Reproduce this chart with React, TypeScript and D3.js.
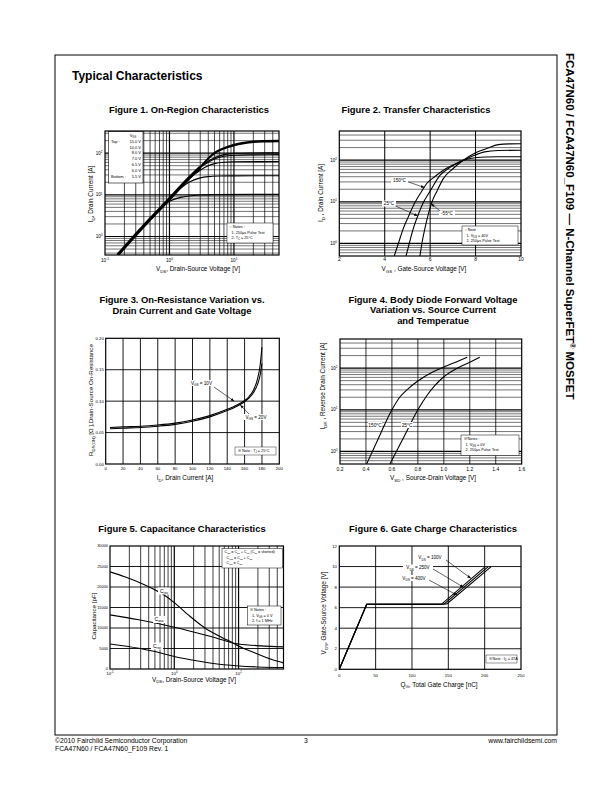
import * as d3 from "d3";
import type { ReactNode } from "react";

type Pt = [number, number];
type Box = { x0: number; x1: number; y0: number; y1: number };

const FONT = "'Liberation Sans', Arial, Helvetica, sans-serif";

// ---- Figure 1: On-Region Characteristics (log-log)
const fig1XDomain = [0.1, 50];
const fig1YDomain = [0.36, 340];
const fig1XTicks = [0.1, 1, 10];
const fig1YTicks = [1, 10, 100];
const fig1Legend = ["15.0 V", "10.0 V", "8.0 V", "7.0 V", "6.5 V", "6.0 V", "5.5 V"];
const fig1Linear: Pt[] = [[0.157, 0.36], [0.238, 0.74], [0.488, 2.5], [1, 8], [2, 25], [3, 46]];
const fig1Vgs15: Pt[] = [[3, 46], [5, 103], [7, 133], [10, 160], [15, 183], [20, 193], [30, 198], [50, 200]];
const fig1Vgs10: Pt[] = [[3, 46], [5, 99], [7, 128], [10, 152], [15, 174], [20, 183], [30, 188], [50, 190]];
const fig1Vgs8: Pt[] = [[2, 25], [3, 46], [4, 64], [5, 78], [7, 92], [10, 99], [20, 101], [50, 102]];
const fig1Vgs7: Pt[] = [[2, 25], [3, 45], [4, 60], [5, 72], [7, 84], [10, 89], [20, 91], [50, 92]];
const fig1Vgs65: Pt[] = [[1.5, 15.4], [2, 24], [3, 39], [4, 50], [5, 56], [7, 60.5], [10, 62], [50, 63]];
const fig1Vgs6: Pt[] = [[1, 8], [1.5, 14.5], [2, 20], [3, 25.5], [4, 27.3], [6, 28.2], [10, 28.5], [50, 28.8]];
const fig1Vgs55: Pt[] = [[0.7, 4.5], [1, 7], [1.5, 8.7], [2, 9.4], [3, 9.9], [5, 10.1], [50, 10.3]];
const fig1Notes = ["○ Notes :", "1. 250µs Pulse Test", "2. T_{C} = 25°C"];

// ---- Figure 2: Transfer Characteristics
const fig2XDomain = [2, 10];
const fig2YDomain = [0.5, 500];
const fig2XTicks = [2, 4, 6, 8, 10];
const fig2YTicks = [1, 10, 100];
const fig2T150: Pt[] = [[4.42, 0.5], [4.6, 1.0], [4.82, 2.3], [5.05, 4.5], [5.33, 9.6], [5.6, 17], [5.85, 27.5], [6.2, 40], [6.58, 57], [7.0, 76], [7.46, 99], [8.05, 116], [9, 120], [10, 121]];
const fig2T25: Pt[] = [[4.94, 0.5], [5.1, 1.1], [5.26, 2.3], [5.45, 4.5], [5.7, 9.6], [6.0, 18], [6.43, 43], [6.9, 68], [7.31, 90], [7.8, 120], [8.4, 158], [9.0, 170], [10, 173]];
const fig2Tm55: Pt[] = [[5.55, 0.5], [5.65, 1.1], [5.77, 2.3], [5.9, 4.6], [6.07, 9.6], [6.3, 18], [6.58, 36], [7.0, 62], [7.46, 99], [8.0, 150], [8.49, 190], [9.0, 236], [9.5, 246], [10, 248]];
const fig2Notes = ["○ Note", "1. V_{DS} = 40V", "2. 250µs Pulse Test"];

// ---- Figure 3: On-Resistance vs Drain Current
const fig3XDomain = [0, 200];
const fig3YDomain = [0, 0.2];
const fig3XTicks = [0, 20, 40, 60, 80, 100, 120, 140, 160, 180, 200];
const fig3YTicks = [0, 0.05, 0.1, 0.15, 0.2];
const fig3Vgs10: Pt[] = [[5, 0.058], [20, 0.059], [40, 0.06], [60, 0.062], [80, 0.065], [100, 0.07], [120, 0.077], [140, 0.087], [150, 0.093], [160, 0.101], [165, 0.107], [170, 0.117], [175, 0.136], [178, 0.158], [180, 0.186]];
const fig3Vgs20: Pt[] = [[5, 0.056], [20, 0.057], [40, 0.058], [60, 0.06], [80, 0.063], [100, 0.068], [120, 0.075], [140, 0.085], [150, 0.091], [160, 0.099], [165, 0.105], [170, 0.113], [175, 0.127], [178, 0.142], [180, 0.16]];

// ---- Figure 4: Body Diode Forward Voltage
const fig4XDomain = [0.2, 1.6];
const fig4YDomain = [0.5, 500];
const fig4XTicks = [0.2, 0.4, 0.6, 0.8, 1.0, 1.2, 1.4, 1.6];
const fig4YTicks = [1, 10, 100];
const fig4T150: Pt[] = [[0.405, 0.5], [0.5, 2.2], [0.6, 10], [0.66, 20], [0.72, 31], [0.8, 49], [0.9, 76], [1.0, 106], [1.1, 143], [1.18, 182]];
const fig4T25: Pt[] = [[0.585, 0.5], [0.7, 2.5], [0.8, 10], [0.87, 22], [0.93, 38], [1.0, 62], [1.1, 98], [1.2, 138], [1.277, 182]];
const fig4Notes = ["※ Notes :", "1. V_{GS} = 0V", "2. 250µs Pulse Test"];

// ---- Figure 5: Capacitance Characteristics
const fig5XDomain = [0.1, 50];
const fig5YDomain = [0, 30000];
const fig5XTicks = [0.1, 1, 10];
const fig5YTicks = [0, 5000, 10000, 15000, 20000, 25000, 30000];
const fig5Ciss: Pt[] = [[0.1, 23700], [0.17, 22500], [0.35, 20500], [0.64, 18400], [1, 16200], [1.65, 13200], [3, 10000], [5.5, 7700], [8.3, 6300], [10, 5600], [18, 3900], [33, 2300], [50, 1500]];
const fig5Coss: Pt[] = [[0.1, 13200], [0.28, 12000], [1, 10200], [3, 8300], [5.5, 7150], [8.3, 6300], [10, 6100], [22, 5650], [50, 5400]];
const fig5Crss: Pt[] = [[0.1, 6100], [0.28, 5050], [0.5, 4250], [1, 3050], [1.9, 2200], [3.8, 1400], [10, 750], [20, 500], [50, 350]];
const fig5Legend = ["C_{iss} = C_{gs} + C_{gd} (C_{ds} = shorted)", "C_{oss} = C_{ds} + C_{gd}", "C_{rss} = C_{gd}"];
const fig5Notes = ["※ Notes :", "1. V_{GS} = 0 V", "2. f = 1 MHz"];

// ---- Figure 6: Gate Charge Characteristics
const fig6XDomain = [0, 250];
const fig6YDomain = [0, 12];
const fig6XTicks = [0, 50, 100, 150, 200, 250];
const fig6YTicks = [0, 2, 4, 6, 8, 10, 12];
const fig6Vds100: Pt[] = [[0, 0], [37.7, 6.3], [140, 6.3], [201, 10]];
const fig6Vds250: Pt[] = [[0, 0], [37.7, 6.33], [144, 6.33], [205, 10]];
const fig6Vds400: Pt[] = [[0, 0], [37.7, 6.36], [148, 6.36], [209, 10]];

function rich(s: string, fs: number): ReactNode[] {
  const out: ReactNode[] = [];
  const re = /([_^])\{([^}]*)\}/g;
  let last = 0;
  let cur = 0;
  let k = 0;
  const push = (t: string, off: number, size: number) => {
    if (!t) return;
    out.push(
      <tspan key={k++} dy={off - cur} fontSize={size}>
        {t}
      </tspan>
    );
    cur = off;
  };
  let m: RegExpExecArray | null;
  while ((m = re.exec(s)) !== null) {
    push(s.slice(last, m.index), 0, fs);
    push(m[2], m[1] === "_" ? fs * 0.28 : -fs * 0.42, fs * 0.68);
    last = re.lastIndex;
  }
  push(s.slice(last), 0, fs);
  return out;
}

function logSteps(lo: number, hi: number) {
  const out: { v: number; major: boolean }[] = [];
  for (let e = Math.floor(Math.log10(lo)); e <= Math.ceil(Math.log10(hi)); e++) {
    for (let m = 1; m <= 9; m++) {
      const v = m * Math.pow(10, e);
      if (v > lo * 1.001 && v < hi * 0.999) out.push({ v, major: m === 1 });
    }
  }
  return out;
}

const pow10 = (v: number) => `10^{${Math.round(Math.log10(v))}}`;

function Frame({ P }: { P: Box }) {
  return <rect x={P.x0} y={P.y0} width={P.x1 - P.x0} height={P.y1 - P.y0} fill="none" stroke="#000" strokeWidth={1.2} />;
}

function Grid({ P, xs, ys }: { P: Box; xs: { p: number; w: number }[]; ys: { p: number; w: number }[] }) {
  return (
    <g stroke="#000">
      {xs.map((g, i) => (
        <line key={"x" + i} x1={g.p} x2={g.p} y1={P.y0} y2={P.y1} strokeWidth={g.w} />
      ))}
      {ys.map((g, i) => (
        <line key={"y" + i} x1={P.x0} x2={P.x1} y1={g.p} y2={g.p} strokeWidth={g.w} />
      ))}
    </g>
  );
}

function XTicks({ vals, pos, y, fs, fmt }: { vals: number[]; pos: (v: number) => number; y: number; fs: number; fmt: (v: number) => string }) {
  return (
    <g>
      {vals.map((v, i) => (
        <text key={i} x={pos(v)} y={y} fontSize={fs} textAnchor="middle">
          {rich(fmt(v), fs)}
        </text>
      ))}
    </g>
  );
}

function YTicks({ vals, pos, x, fs, fmt }: { vals: number[]; pos: (v: number) => number; x: number; fs: number; fmt: (v: number) => string }) {
  return (
    <g>
      {vals.map((v, i) => (
        <text key={i} x={x} y={pos(v) + fs * 0.35} fontSize={fs} textAnchor="end">
          {rich(fmt(v), fs)}
        </text>
      ))}
    </g>
  );
}

function XLabel({ s, cx, y, fs = 6.4 }: { s: string; cx: number; y: number; fs?: number }) {
  return (
    <text x={cx} y={y} fontSize={fs} textAnchor="middle">
      {rich(s, fs)}
    </text>
  );
}

function YLabel({ s, cx, cy, fs = 6.4 }: { s: string; cx: number; cy: number; fs?: number }) {
  const bx = cx + fs * 0.35;
  return (
    <text transform={`translate(${bx},${cy}) rotate(-90)`} fontSize={fs} textAnchor="middle">
      {rich(s, fs)}
    </text>
  );
}

function Title({ cx, y, lines }: { cx: number; y: number; lines: string[] }) {
  return (
    <text x={cx} y={y} textAnchor="middle" fontSize={9.4} fontWeight="bold">
      {lines.map((l, i) => (
        <tspan key={i} x={cx} dy={i === 0 ? 0 : 10.5}>
          {l}
        </tspan>
      ))}
    </text>
  );
}

function NoteBox({ x, y, w, h, lines, fs = 3.8, lh = 5.6 }: { x: number; y: number; w: number; h: number; lines: string[]; fs?: number; lh?: number }) {
  return (
    <g>
      <rect x={x} y={y} width={w} height={h} fill="#fff" stroke="#000" strokeWidth={0.5} />
      {lines.map((l, i) => (
        <text key={i} x={x + 2.5 + (i === 0 ? 0 : 2)} y={y + 1.2 + fs + i * lh} fontSize={fs}>
          {rich(l, fs)}
        </text>
      ))}
    </g>
  );
}

function Arrow({ x1, y1, x2, y2 }: { x1: number; y1: number; x2: number; y2: number }) {
  return <line x1={x1} y1={y1} x2={x2} y2={y2} stroke="#000" strokeWidth={0.6} markerEnd="url(#arrowhead)" />;
}

function Fig1() {
  const P: Box = { x0: 105, x1: 279, y0: 131, y1: 255 };
  const x = d3.scaleLog().domain(fig1XDomain).range([P.x0, P.x1]);
  const y = d3.scaleLog().domain(fig1YDomain).range([P.y1, P.y0]);
  const line = d3.line<Pt>().x((d) => x(d[0])).y((d) => y(d[1])).curve(d3.curveMonotoneX);
  const xs = logSteps(fig1XDomain[0], fig1XDomain[1]).map((g) => ({ p: x(g.v), w: g.major ? 1.2 : 0.7 }));
  const ys = logSteps(fig1YDomain[0], fig1YDomain[1]).map((g) => ({ p: y(g.v), w: g.major ? 1.2 : 0.55 }));
  const curves = [fig1Vgs15, fig1Vgs10, fig1Vgs8, fig1Vgs7, fig1Vgs65, fig1Vgs6, fig1Vgs55];
  return (
    <g>
      <Title cx={189} y={112.5} lines={["Figure 1. On-Region Characteristics"]} />
      <clipPath id="clip1">
        <rect x={P.x0} y={P.y0} width={P.x1 - P.x0} height={P.y1 - P.y0} />
      </clipPath>
      <Grid P={P} xs={xs} ys={ys} />
      <g clipPath="url(#clip1)" fill="none" stroke="#000">
        <path d={line(fig1Linear) ?? ""} strokeWidth={3.2} />
        {curves.map((c, i) => (
          <path key={i} d={line(c) ?? ""} strokeWidth={i < 2 ? 1.6 : 1.1} />
        ))}
      </g>
      <rect x={108.5} y={131.5} width={34.5} height={51.5} fill="#fff" stroke="#000" strokeWidth={0.6} />
      <text x={133} y={136.5} fontSize={4} textAnchor="middle">
        {rich("V_{GS}", 4)}
      </text>
      {fig1Legend.map((v, i) => (
        <g key={v}>
          <text x={141} y={142.8 + i * 5.8} fontSize={4} textAnchor="end">
            {v}
          </text>
          {i === 0 && (
            <text x={111} y={142.8} fontSize={4}>
              Top :
            </text>
          )}
          {i === fig1Legend.length - 1 && (
            <text x={111} y={142.8 + i * 5.8} fontSize={4}>
              Bottom :
            </text>
          )}
        </g>
      ))}
      <NoteBox x={227} y={223} w={46} h={20} lines={fig1Notes} />
      <Frame P={P} />
      <XTicks vals={fig1XTicks} pos={x} y={261.5} fs={4.6} fmt={pow10} />
      <YTicks vals={fig1YTicks} pos={y} x={102.5} fs={4.6} fmt={pow10} />
      <XLabel s="V_{DS}, Drain-Source Voltage [V]" cx={198} y={271.3} />
      <YLabel s="I_{D}, Drain Current [A]" cx={91} cy={194} />
    </g>
  );
}

function Fig2() {
  const P: Box = { x0: 339.3, x1: 521, y0: 131, y1: 256 };
  const x = d3.scaleLinear().domain(fig2XDomain).range([P.x0, P.x1]);
  const y = d3.scaleLog().domain(fig2YDomain).range([P.y1, P.y0]);
  const line = d3.line<Pt>().x((d) => x(d[0])).y((d) => y(d[1])).curve(d3.curveMonotoneX);
  const xs = fig2XTicks.slice(1, -1).map((v) => ({ p: x(v), w: 1.0 }));
  const ys = logSteps(fig2YDomain[0], fig2YDomain[1]).map((g) => ({ p: y(g.v), w: g.major ? 1.2 : 0.55 }));
  return (
    <g>
      <Title cx={416} y={112.5} lines={["Figure 2. Transfer Characteristics"]} />
      <clipPath id="clip2">
        <rect x={P.x0} y={P.y0} width={P.x1 - P.x0} height={P.y1 - P.y0} />
      </clipPath>
      <Grid P={P} xs={xs} ys={ys} />
      <g clipPath="url(#clip2)" fill="none" stroke="#000" strokeWidth={1.1}>
        <path d={line(fig2T150) ?? ""} />
        <path d={line(fig2T25) ?? ""} />
        <path d={line(fig2Tm55) ?? ""} />
      </g>
      <rect x={391} y={177.5} width={17} height={6} fill="#fff" />
      <text x={399.5} y={182.3} fontSize={4.6} textAnchor="middle">150°C</text>
      <Arrow x1={408.5} y1={182} x2={x(5.75)} y2={y(22)} />
      <rect x={382} y={200.5} width={14} height={6} fill="#fff" />
      <text x={389} y={205.3} fontSize={4.6} textAnchor="middle">25°C</text>
      <Arrow x1={395.5} y1={206} x2={x(5.45)} y2={y(4.6)} />
      <rect x={439} y={210.5} width={16} height={6} fill="#fff" />
      <text x={447} y={215.3} fontSize={4.6} textAnchor="middle">-55°C</text>
      <Arrow x1={440} y1={211} x2={x(6.05)} y2={y(9)} />
      <NoteBox x={462} y={226} w={56} h={19} lines={fig2Notes} />
      <Frame P={P} />
      <XTicks vals={fig2XTicks} pos={x} y={260.8} fs={5} fmt={(v) => String(v)} />
      <YTicks vals={fig2YTicks} pos={y} x={337} fs={4.6} fmt={pow10} />
      <XLabel s="V_{GS} , Gate-Source Voltage  [V]" cx={424} y={271.3} />
      <YLabel s="I_{D} , Drain Current [A]" cx={321} cy={193} />
    </g>
  );
}

function Fig3() {
  const P: Box = { x0: 105.7, x1: 279.3, y0: 338.3, y1: 464 };
  const x = d3.scaleLinear().domain(fig3XDomain).range([P.x0, P.x1]);
  const y = d3.scaleLinear().domain(fig3YDomain).range([P.y1, P.y0]);
  const line = d3.line<Pt>().x((d) => x(d[0])).y((d) => y(d[1])).curve(d3.curveMonotoneX);
  const xs = fig3XTicks.slice(1, -1).map((v) => ({ p: x(v), w: 0.9 }));
  const ys = fig3YTicks.slice(1, -1).map((v) => ({ p: y(v), w: 0.9 }));
  return (
    <g>
      <Title cx={182} y={303} lines={["Figure 3. On-Resistance Variation vs.", "Drain Current and Gate Voltage"]} />
      <Grid P={P} xs={xs} ys={ys} />
      <g fill="none" stroke="#000" strokeWidth={1.1}>
        <path d={line(fig3Vgs10) ?? ""} />
        <path d={line(fig3Vgs20) ?? ""} />
      </g>
      <rect x={188} y={380} width={27} height={6} fill="#fff" />
      <text x={201.5} y={384.8} fontSize={4.6} textAnchor="middle">
        {rich("V_{GS} = 10V", 4.6)}
      </text>
      <Arrow x1={214} y1={387} x2={x(148)} y2={y(0.1)} />
      <rect x={242} y={414} width={27} height={6} fill="#fff" />
      <text x={256} y={418.8} fontSize={4.6} textAnchor="middle">
        {rich("V_{GS} = 20V", 4.6)}
      </text>
      <Arrow x1={249} y1={414} x2={x(155)} y2={y(0.094)} />
      <rect x={235} y={447} width={41} height={8} fill="#fff" stroke="#000" strokeWidth={0.4} />
      <text x={238} y={452.4} fontSize={3.8}>
        {rich("※ Note : T_{J} = 25°C", 3.8)}
      </text>
      <Frame P={P} />
      <XTicks vals={fig3XTicks} pos={x} y={470.3} fs={4.3} fmt={(v) => String(v)} />
      <YTicks vals={fig3YTicks} pos={y} x={103.8} fs={4.3} fmt={d3.format(".2f")} />
      <XLabel s="I_{D}, Drain Current [A]" cx={185} y={480} />
      <YLabel s="R_{DS(ON)} [Ω ],Drain-Source On-Resistance" cx={91} cy={400} fs={6.2} />
    </g>
  );
}

function Fig4() {
  const P: Box = { x0: 340, x1: 521.7, y0: 339, y1: 464 };
  const x = d3.scaleLinear().domain(fig4XDomain).range([P.x0, P.x1]);
  const y = d3.scaleLog().domain(fig4YDomain).range([P.y1, P.y0]);
  const line = d3.line<Pt>().x((d) => x(d[0])).y((d) => y(d[1])).curve(d3.curveMonotoneX);
  const xs = fig4XTicks.slice(1, -1).map((v) => ({ p: x(v), w: 0.8 }));
  const ys = logSteps(fig4YDomain[0], fig4YDomain[1]).map((g) => ({ p: y(g.v), w: g.major ? 1.2 : 0.55 }));
  return (
    <g>
      <Title cx={433} y={302.5} lines={["Figure 4. Body Diode Forward Voltage", "Variation vs. Source Current", "and Temperatue"]} />
      <clipPath id="clip4">
        <rect x={P.x0} y={P.y0} width={P.x1 - P.x0} height={P.y1 - P.y0} />
      </clipPath>
      <Grid P={P} xs={xs} ys={ys} />
      <g clipPath="url(#clip4)" fill="none" stroke="#000" strokeWidth={1.1}>
        <path d={line(fig4T150) ?? ""} />
        <path d={line(fig4T25) ?? ""} />
      </g>
      <rect x={368} y={422} width={14} height={6} fill="#fff" />
      <text x={375} y={426.8} fontSize={4.8} textAnchor="middle">150°C</text>
      <rect x={401} y={422} width={12} height={6} fill="#fff" />
      <text x={407} y={426.8} fontSize={4.8} textAnchor="middle">25°C</text>
      <NoteBox x={461} y={435} w={58} h={20.5} lines={fig4Notes} />
      <Frame P={P} />
      <XTicks vals={fig4XTicks} pos={x} y={470.5} fs={5} fmt={d3.format(".1f")} />
      <YTicks vals={fig4YTicks} pos={y} x={337.5} fs={4.6} fmt={pow10} />
      <XLabel s="V_{SD} , Source-Drain Voltage  [V]" cx={433} y={480} />
      <YLabel s="I_{DR} , Reverse Drain Current  [A]" cx={323} cy={386} />
    </g>
  );
}

function Fig5() {
  const P: Box = { x0: 110, x1: 283.5, y0: 546, y1: 669 };
  const x = d3.scaleLog().domain(fig5XDomain).range([P.x0, P.x1]);
  const y = d3.scaleLinear().domain(fig5YDomain).range([P.y1, P.y0]);
  const line = d3.line<Pt>().x((d) => x(d[0])).y((d) => y(d[1])).curve(d3.curveMonotoneX);
  const xs = logSteps(fig5XDomain[0], fig5XDomain[1]).map((g) => ({ p: x(g.v), w: g.major ? 1.2 : 0.75 }));
  const ys = fig5YTicks.slice(1, -1).map((v) => ({ p: y(v), w: 0.9 }));
  return (
    <g>
      <Title cx={182} y={532.3} lines={["Figure 5. Capacitance Characteristics"]} />
      <clipPath id="clip5">
        <rect x={P.x0} y={P.y0} width={P.x1 - P.x0} height={P.y1 - P.y0} />
      </clipPath>
      <Grid P={P} xs={xs} ys={ys} />
      <g clipPath="url(#clip5)" fill="none" stroke="#000" strokeWidth={1.1}>
        <path d={line(fig5Ciss) ?? ""} />
        <path d={line(fig5Coss) ?? ""} />
        <path d={line(fig5Crss) ?? ""} />
      </g>
      <rect x={158} y={587.5} width={12} height={7} fill="#fff" />
      <text x={164} y={592.5} fontSize={5} textAnchor="middle">{rich("C_{iss}", 5)}</text>
      <rect x={153} y={616} width={12} height={7} fill="#fff" />
      <text x={159} y={621} fontSize={5} textAnchor="middle">{rich("C_{oss}", 5)}</text>
      <rect x={151} y={642.5} width={12} height={7} fill="#fff" />
      <text x={157} y={647.5} fontSize={5} textAnchor="middle">{rich("C_{rss}", 5)}</text>
      <NoteBox x={222} y={548.5} w={60.5} h={19.5} lines={fig5Legend} fs={3.7} lh={5.4} />
      <NoteBox x={247.5} y={606} w={33.5} h={19} lines={fig5Notes} />
      <Frame P={P} />
      <XTicks vals={fig5XTicks} pos={x} y={674.8} fs={4.4} fmt={pow10} />
      <YTicks vals={fig5YTicks} pos={y} x={108} fs={3.9} fmt={(v) => String(v)} />
      <XLabel s="V_{DS}, Drain-Source Voltage [V]" cx={194} y={681.5} />
      <YLabel s="Capacitance [pF]" cx={94} cy={616} fs={6.2} />
    </g>
  );
}

function Fig6() {
  const P: Box = { x0: 339.3, x1: 521, y0: 546, y1: 669.3 };
  const x = d3.scaleLinear().domain(fig6XDomain).range([P.x0, P.x1]);
  const y = d3.scaleLinear().domain(fig6YDomain).range([P.y1, P.y0]);
  const line = d3.line<Pt>().x((d) => x(d[0])).y((d) => y(d[1]));
  const xs = fig6XTicks.slice(1, -1).map((v) => ({ p: x(v), w: 0.9 }));
  const ys = fig6YTicks.slice(1, -1).map((v) => ({ p: y(v), w: 0.9 }));
  return (
    <g>
      <Title cx={433} y={532.3} lines={["Figure 6. Gate Charge Characteristics"]} />
      <Grid P={P} xs={xs} ys={ys} />
      <g fill="none" stroke="#000" strokeWidth={1.1} strokeLinejoin="miter">
        <path d={line(fig6Vds100) ?? ""} />
        <path d={line(fig6Vds250) ?? ""} />
        <path d={line(fig6Vds400) ?? ""} />
      </g>
      <rect x={415} y={554.5} width={30} height={6} fill="#fff" />
      <text x={430} y={559.3} fontSize={4.6} textAnchor="middle">{rich("V_{DS} = 100V", 4.6)}</text>
      <Arrow x1={446} y1={560} x2={x(181)} y2={y(8.85)} />
      <rect x={403} y={564.5} width={30} height={6} fill="#fff" />
      <text x={418} y={569.3} fontSize={4.6} textAnchor="middle">{rich("V_{DS} = 250V", 4.6)}</text>
      <Arrow x1={433} y1={569} x2={x(171)} y2={y(7.98)} />
      <rect x={399} y={575} width={30} height={6} fill="#fff" />
      <text x={414} y={579.8} fontSize={4.6} textAnchor="middle">{rich("V_{DS} = 400V", 4.6)}</text>
      <Arrow x1={429} y1={580} x2={x(162)} y2={y(7.22)} />
      <rect x={486} y={655} width={31} height={8} fill="#fff" stroke="#000" strokeWidth={0.4} />
      <text x={488.5} y={660.4} fontSize={3.8}>{rich("※ Note : I_{D} = 47A", 3.8)}</text>
      <Frame P={P} />
      <XTicks vals={fig6XTicks} pos={x} y={677} fs={4.3} fmt={(v) => String(v)} />
      <YTicks vals={fig6YTicks} pos={y} x={337} fs={4.3} fmt={(v) => String(v)} />
      <XLabel s="Q_{G}, Total Gate Charge [nC]" cx={439} y={686.6} />
      <YLabel s="V_{GS}, Gate-Source Voltage [V]" cx={323.5} cy={613} />
    </g>
  );
}

export default function App() {
  return (
    <div style={{ position: "absolute", left: 0, top: 0 }}>
      <svg width={612} height={792} viewBox="0 0 612 792" style={{ display: "block", background: "#fff" }} fontFamily={FONT}>
        <defs>
          <marker id="arrowhead" viewBox="0 0 10 10" refX={10} refY={5} markerWidth={6} markerHeight={6} orient="auto">
            <path d="M0,1 L10,5 L0,9 z" fill="#000" />
          </marker>
        </defs>
        <rect x={0} y={0} width={612} height={792} fill="#fff" />
        <rect x={55} y={55} width={502} height={680} fill="none" stroke="#000" strokeWidth={1} />
        <text x={72} y={79.5} fontSize={12} fontWeight="bold">
          Typical Characteristics
        </text>
        <text transform="translate(566,53) rotate(90)" fontSize={11.5} fontWeight="bold">
          FCA47N60 / FCA47N60_F109 {"  "}— N-Channel SuperFET
          <tspan dy={-4} fontSize={7}>
            ®
          </tspan>
          <tspan dy={4}> MOSFET</tspan>
        </text>
        <Fig1 />
        <Fig2 />
        <Fig3 />
        <Fig4 />
        <Fig5 />
        <Fig6 />
        <text x={55} y={742.5} fontSize={6.8}>
          ©2010 Fairchild Semiconductor Corporation
        </text>
        <text x={55} y={751} fontSize={6.8}>
          FCA47N60 / FCA47N60_F109 Rev. 1
        </text>
        <text x={306} y={742.5} fontSize={6.8} textAnchor="middle">
          3
        </text>
        <text x={557} y={742.5} fontSize={6.8} textAnchor="end">
          www.fairchildsemi.com
        </text>
      </svg>
    </div>
  );
}
